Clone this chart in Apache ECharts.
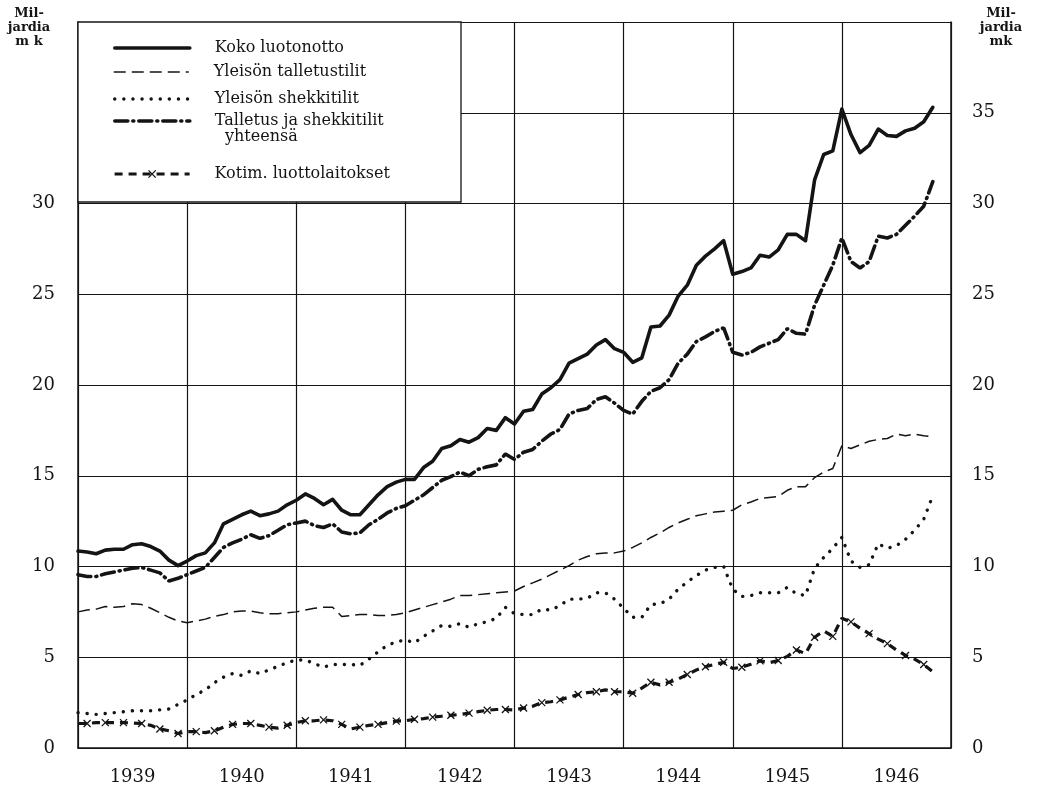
<!DOCTYPE html>
<html>
<head>
<meta charset="utf-8">
<script src="https://cdn.jsdelivr.net/npm/echarts@6/dist/echarts.min.js"></script>
<style>
  html, body { margin: 0; padding: 0; background: #fff; }
  #chart { width: 1037px; height: 790px; }
</style>
</head>
<body>
<div id="chart"></div>
<script>
// Monthly data, January 1939 .. November 1946 (month index 0..94), milliards of marks
const years = ['1939', '1940', '1941', '1942', '1943', '1944', '1945', '1946'];
const yTicks = [0, 5, 10, 15, 20, 25, 30, 35];

const kokoLuotonotto = [
  10.85, 10.8, 10.7, 10.9, 10.95, 10.95, 11.2, 11.25, 11.1, 10.85, 10.35, 10.05,
  10.3, 10.6, 10.75, 11.3, 12.35, 12.6, 12.85, 13.05, 12.8, 12.9, 13.05, 13.4,
  13.65, 14.0, 13.75, 13.4, 13.7, 13.1, 12.85, 12.85, 13.4, 13.95, 14.4, 14.65,
  14.8, 14.8, 15.45, 15.8, 16.5, 16.65, 17.0, 16.85, 17.1, 17.6, 17.5, 18.2,
  17.85, 18.55, 18.65, 19.5, 19.85, 20.3, 21.2, 21.45, 21.7, 22.2, 22.5, 22.0,
  21.8, 21.25, 21.5, 23.2, 23.25, 23.85, 24.9, 25.5, 26.6, 27.1, 27.5, 27.95,
  26.1, 26.25, 26.45, 27.15, 27.05, 27.45, 28.3, 28.3, 27.95, 31.3, 32.7, 32.9,
  35.2, 33.8, 32.8, 33.2, 34.1, 33.75, 33.7, 34.0, 34.15, 34.5, 35.3
];
const talletustilit = [
  7.5, 7.6, 7.65, 7.8, 7.75, 7.8, 7.95, 7.9, 7.7, 7.45, 7.2, 7.0,
  6.9, 7.0, 7.1, 7.25, 7.35, 7.5, 7.55, 7.55, 7.45, 7.4, 7.4, 7.45,
  7.5, 7.6, 7.7, 7.75, 7.75, 7.25, 7.3, 7.35, 7.35, 7.3, 7.3, 7.35,
  7.45, 7.6, 7.75, 7.9, 8.05, 8.2, 8.4, 8.4, 8.45, 8.5, 8.55, 8.6,
  8.65, 8.9, 9.1, 9.3, 9.55, 9.8, 10.05, 10.35, 10.55, 10.7, 10.75, 10.75,
  10.85, 11.05, 11.3, 11.6, 11.85, 12.15, 12.4, 12.6, 12.8, 12.9, 13.0, 13.05,
  13.1, 13.4, 13.55, 13.75, 13.8, 13.85, 14.2, 14.4, 14.4, 14.9, 15.2, 15.4,
  16.65, 16.5, 16.7, 16.9, 17.0, 17.05, 17.3, 17.2, 17.3, 17.2, 17.15
];
const shekkitilit = [
  1.95, 1.9, 1.85, 1.9, 1.95, 2.0, 2.05, 2.05, 2.05, 2.1, 2.15, 2.4,
  2.65, 2.95, 3.2, 3.6, 3.9, 4.1, 4.0, 4.25, 4.1, 4.3, 4.5, 4.7,
  4.85, 4.85, 4.65, 4.45, 4.6, 4.6, 4.6, 4.55, 4.9, 5.3, 5.65, 5.85,
  5.95, 5.8, 6.15, 6.45, 6.75, 6.7, 6.85, 6.65, 6.85, 6.95, 7.15, 7.75,
  7.4, 7.35, 7.35, 7.65, 7.6, 7.85, 8.2, 8.2, 8.25, 8.55, 8.55, 8.2,
  7.7, 7.2, 7.2, 7.9, 7.95, 8.2, 8.75, 9.15, 9.5, 9.8, 9.95, 10.0,
  8.75, 8.35, 8.4, 8.55, 8.55, 8.55, 8.85, 8.5, 8.4, 9.9, 10.5, 11.0,
  11.6, 10.3, 9.95, 10.1, 11.25, 11.0, 11.15, 11.5, 12.0, 12.6, 13.9
];
const talletusJaShekki = [
  9.55, 9.45, 9.45, 9.6, 9.7, 9.8, 9.9, 9.95, 9.8, 9.65, 9.2, 9.35,
  9.55, 9.75, 9.95, 10.5, 11.05, 11.3, 11.5, 11.75, 11.55, 11.7, 12.0, 12.3,
  12.4, 12.5, 12.25, 12.15, 12.35, 11.9, 11.8, 11.85, 12.3, 12.6, 12.95, 13.2,
  13.35, 13.65, 13.95, 14.35, 14.75, 14.95, 15.2, 15.0, 15.35, 15.5, 15.6, 16.2,
  15.9, 16.3, 16.45, 16.9, 17.3, 17.55, 18.4, 18.6, 18.7, 19.2, 19.35, 19.0,
  18.6, 18.4, 19.1, 19.65, 19.85, 20.3, 21.2, 21.7, 22.4, 22.65, 22.95, 23.15,
  21.8, 21.65, 21.8, 22.1, 22.3, 22.5, 23.1, 22.85, 22.8, 24.4, 25.5, 26.6,
  28.1, 26.8, 26.45, 26.8, 28.2, 28.1, 28.3, 28.8, 29.3, 29.85, 31.2
];
const kotimLuottolaitokset = [
  1.35, 1.35, 1.4, 1.4, 1.4, 1.4, 1.38, 1.35, 1.25, 1.05, 0.95, 0.8,
  0.9, 0.9, 0.85, 0.95, 1.15, 1.3, 1.35, 1.35, 1.25, 1.15, 1.1, 1.25,
  1.4, 1.5, 1.5, 1.55, 1.5, 1.3, 1.05, 1.15, 1.25, 1.3, 1.4, 1.48,
  1.5, 1.58, 1.62, 1.7, 1.75, 1.8, 1.85, 1.92, 2.0, 2.08, 2.12, 2.12,
  2.1, 2.2, 2.3, 2.5, 2.55, 2.65, 2.8, 2.95, 3.05, 3.1, 3.2, 3.1,
  3.1, 3.02, 3.3, 3.62, 3.48, 3.62, 3.8, 4.05, 4.3, 4.48, 4.6, 4.72,
  4.38, 4.45, 4.62, 4.8, 4.7, 4.82, 5.05, 5.4, 5.2, 6.1, 6.45, 6.15,
  7.15, 6.95, 6.6, 6.3, 6.0, 5.75, 5.4, 5.1, 4.9, 4.6, 4.2
];

const seriesNames = [
  'Koko luotonotto',
  'Yleisön talletustilit',
  'Yleisön shekkitilit',
  'Talletus ja shekkitilit\n  yhteensä',
  'Kotim. luottolaitokset'
];

const INK = '#141414';
const FONT = 'DejaVu Serif';
const X_MARK = 'path://M0,0L10,10M10,0L0,10';

// line styles shared by each series and its legend entry
const lineStyles = [
  { color: INK, width: 3.6, type: 'solid', join: 'round', cap: 'round' },
  { color: INK, width: 1.5, type: [12, 6] },
  { color: INK, width: 3.4, type: [0.1, 9], cap: 'round' },
  { color: INK, width: 3.6, type: [13, 5, 1, 5], cap: 'round' },
  { color: INK, width: 3.2, type: [8, 6] }
];

const toPoints = arr => arr.map((v, i) => [i, v]);

const chart = echarts.init(document.getElementById('chart'), null, { renderer: 'canvas' });

const legendTops = [39, 63, 90, 97, 165];
const legendText = [
  seriesNames[0], seriesNames[1], seriesNames[2],
  '\nTalletus ja shekkitilit\n  yhteensä', seriesNames[4]
];

const legends = seriesNames.map((name, k) => ({
  data: [name],
  left: 113,
  top: legendTops[k],
  padding: 0,
  itemWidth: 75,
  itemHeight: k === 4 ? 9 : 14,
  z: 6,
  selectedMode: false,
  formatter: () => legendText[k],
  lineStyle: Object.assign({}, lineStyles[k]),
  itemStyle: k === 4
    ? { color: INK, borderColor: INK, borderWidth: 1.3 }
    : { color: 'rgba(0,0,0,0)', borderWidth: 0, borderColor: 'rgba(0,0,0,0)' },
  textStyle: {
    fontFamily: FONT, fontSize: 16, color: INK,
    lineHeight: k === 3 ? 16 : 18,
    padding: [0, 0, 0, 20]
  }
}));

const option = {
  animation: false,
  backgroundColor: '#fff',
  textStyle: { fontFamily: FONT, color: INK },
  grid: { left: 78, right: 86, top: 22, bottom: 42, containLabel: false },
  legend: legends,
  graphic: [
    {
      type: 'rect', z: 3,
      shape: { x: 78, y: 22, width: 383, height: 180 },
      style: { fill: '#fff', stroke: INK, lineWidth: 1.3 }
    },
    {
      type: 'text', z: 5, x: 29, y: 7,
      style: {
        text: 'Mil-\njardia\nm k', fill: INK, font: 'bold 13px "DejaVu Serif"',
        align: 'center', verticalAlign: 'top', lineHeight: 14
      }
    },
    {
      type: 'text', z: 5, x: 1001, y: 7,
      style: {
        text: 'Mil-\njardia\nmk', fill: INK, font: 'bold 13px "DejaVu Serif"',
        align: 'center', verticalAlign: 'top', lineHeight: 14
      }
    }
  ],
  xAxis: [
    {
      type: 'value', min: 0, max: 96, interval: 12,
      axisLine: { show: true, lineStyle: { color: INK, width: 1.5 } },
      axisTick: { show: false },
      axisLabel: { show: false },
      splitLine: { show: true, lineStyle: { color: INK, width: 1.2 } }
    },
    {
      type: 'category', data: years, boundaryGap: true, position: 'bottom',
      axisLine: { show: false }, axisTick: { show: false }, splitLine: { show: false },
      axisLabel: { fontFamily: FONT, fontSize: 18, color: INK, margin: 20 }
    }
  ],
  yAxis: [
    {
      type: 'value', min: 0, max: 40, interval: 5, position: 'left',
      axisLine: { show: true, lineStyle: { color: INK, width: 1.5 } },
      axisTick: { show: false },
      splitLine: { show: true, lineStyle: { color: INK, width: 1.2 } },
      axisLabel: {
        fontFamily: FONT, fontSize: 18, color: INK, margin: 23,
        formatter: v => (yTicks.indexOf(v) >= 0 && v <= 30 ? String(v) : '')
      }
    },
    {
      type: 'value', min: 0, max: 40, interval: 5, position: 'right',
      axisLine: { show: true, lineStyle: { color: INK, width: 1.5 } },
      axisTick: { show: false },
      splitLine: { show: false },
      axisLabel: {
        fontFamily: FONT, fontSize: 18, color: INK, margin: 21,
        formatter: v => (yTicks.indexOf(v) >= 0 ? String(v) : '')
      }
    }
  ],
  series: [
    {
      name: seriesNames[0], type: 'line', data: toPoints(kokoLuotonotto),
      symbol: 'none', color: INK, z: 4, lineStyle: lineStyles[0]
    },
    {
      name: seriesNames[1], type: 'line', data: toPoints(talletustilit),
      symbol: 'none', color: INK, z: 4, lineStyle: lineStyles[1]
    },
    {
      name: seriesNames[2], type: 'line', data: toPoints(shekkitilit),
      symbol: 'none', color: INK, z: 4, lineStyle: lineStyles[2]
    },
    {
      name: seriesNames[3], type: 'line', data: toPoints(talletusJaShekki),
      symbol: 'none', color: INK, z: 4, lineStyle: lineStyles[3]
    },
    {
      name: seriesNames[4], type: 'line',
      data: kotimLuottolaitokset.map((v, i) => ({
        value: [i, v], symbol: i % 2 === 1 ? X_MARK : 'none'
      })),
      symbol: X_MARK, symbolSize: 7, showAllSymbol: true, color: INK, z: 4,
      itemStyle: { color: INK, borderColor: INK, borderWidth: 1.3 },
      lineStyle: lineStyles[4]
    }
  ]
};

chart.setOption(option);
</script>
</body>
</html>
